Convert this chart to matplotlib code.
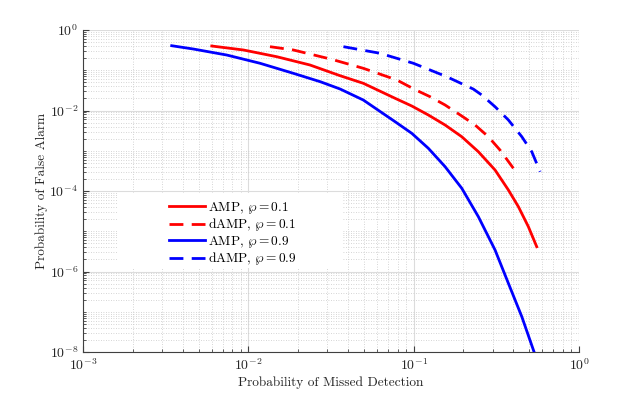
import matplotlib
matplotlib.use("Agg")
import matplotlib.pyplot as plt
from matplotlib.ticker import LogLocator, NullFormatter
from matplotlib.patches import Rectangle

plt.rcParams['mathtext.fontset'] = 'cm'
plt.rcParams['font.family'] = 'serif'
plt.rcParams['font.serif'] = ['cmr10', 'DejaVu Serif']
plt.rcParams['axes.formatter.use_mathtext'] = True

# AMP, wp = 0.9 (blue solid)
amp09_x = [0.00344, 0.00465, 0.00740, 0.01177, 0.0187, 0.0272, 0.0359, 0.0496, 0.0772, 0.0974,
           0.1227, 0.1549, 0.1954, 0.2462, 0.3107, 0.374, 0.451, 0.535]
amp09_y = [0.407, 0.337, 0.239, 0.149, 0.0840, 0.0520, 0.0342, 0.0182, 5.27e-3, 2.71e-3,
           1.15e-3, 4.02e-4, 1.17e-4, 2.30e-5, 3.42e-6, 5.09e-7, 7.53e-8, 1.0e-8]
# AMP, wp = 0.1 (red solid)
amp01_x = [0.00601, 0.00933, 0.01485, 0.0236, 0.0359, 0.0496, 0.0772, 0.0974, 0.1227, 0.1549,
           0.1954, 0.2462, 0.3107, 0.374, 0.430, 0.494, 0.555]
amp01_y = [0.400, 0.319, 0.217, 0.135, 0.0732, 0.0474, 0.0201, 0.01294, 7.73e-3, 4.36e-3,
           2.23e-3, 9.46e-4, 3.32e-4, 1.06e-4, 4.07e-5, 1.30e-5, 4.13e-6]
# dAMP, wp = 0.1 (red dashed)
damp01_x = [0.01352, 0.0187, 0.0319, 0.0496, 0.0791, 0.1020, 0.1257, 0.1549, 0.1954, 0.2352,
            0.283, 0.333, 0.401]
damp01_y = [0.385, 0.319, 0.187, 0.1117, 0.0573, 0.0330, 0.0220, 0.01370, 7.30e-3, 4.36e-3,
            2.23e-3, 1.04e-3, 3.66e-4]
# dAMP, wp = 0.9 (blue dashed)
damp09_x = [0.0376, 0.0626, 0.0996, 0.1585, 0.2297, 0.258, 0.3107, 0.374, 0.451, 0.518, 0.582]
damp09_y = [0.385, 0.264, 0.149, 0.0691, 0.0340, 0.0243, 0.0124, 5.81e-3, 2.23e-3, 9.46e-4, 3.02e-4]

labels = [r'AMP, $\wp = 0.1$', r'dAMP, $\wp = 0.1$', r'AMP, $\wp = 0.9$', r'dAMP, $\wp = 0.9$']

W, H = 640, 397
L, R, T, B = 83, 579, 30, 352
fig = plt.figure(figsize=(W / 100, H / 100), dpi=100)
ax = fig.add_axes([L / W, 1 - B / H, (R - L) / W, (B - T) / H])

lw = 2.0
dash = (0, (5, 3))
ax.plot(amp01_x, amp01_y, color='#ff0000', lw=lw, label=labels[0], zorder=3)
ax.plot(damp01_x, damp01_y, color='#ff0000', lw=lw, ls=dash, label=labels[1], zorder=3)
ax.plot(amp09_x, amp09_y, color='#0000ff', lw=lw, label=labels[2], zorder=3)
ax.plot(damp09_x, damp09_y, color='#0000ff', lw=lw, ls=dash, label=labels[3], zorder=3)

ax.set_xscale('log')
ax.set_yscale('log')
ax.set_xlim(1e-3, 1e0)
ax.set_ylim(1e-8, 1e0)
ax.set_xticks([1e-3, 1e-2, 1e-1, 1e0])
ax.set_yticks([1e-8, 1e-6, 1e-4, 1e-2, 1e0])
ax.yaxis.set_minor_locator(LogLocator(base=10, subs=[1, 2, 3, 4, 5, 6, 7, 8, 9], numticks=50))
ax.yaxis.set_minor_formatter(NullFormatter())
ax.xaxis.set_minor_formatter(NullFormatter())

ax.grid(True, which='major', color='#dcdcdc', lw=0.8, ls='-')
ax.grid(True, which='minor', color='#c8c8c8', lw=0.6, ls=(0, (1, 2)))
ax.set_axisbelow(True)

for s in ['top', 'right']:
    ax.spines[s].set_visible(False)
for s in ['left', 'bottom']:
    ax.spines[s].set_color('#404040')
    ax.spines[s].set_linewidth(0.8)
ax.tick_params(which='both', direction='in', colors='#404040', labelcolor='#262626', labelsize=10)
ax.tick_params(which='major', length=4)
ax.tick_params(which='minor', length=2)

ax.set_xlabel('Probability of Missed Detection', fontsize=9.6, color='#262626', labelpad=3)
ax.set_ylabel('Probability of False Alarm', fontsize=9.6, color='#262626', labelpad=1)

# white legend background (covers the grid)
def ax_x(px):
    return (px - L) / (R - L)

def ax_y(py):
    return (B - py) / (B - T)

ax.add_patch(Rectangle((ax_x(117), ax_y(268)), ax_x(342) - ax_x(117), ax_y(193) - ax_y(268),
                       transform=ax.transAxes, facecolor='white', edgecolor='none', zorder=1))

leg = ax.legend(loc='upper left', bbox_to_anchor=(ax_x(169), ax_y(200)), frameon=False, fontsize=9.6,
                handlelength=2.7, handletextpad=0.25, labelspacing=0.03, borderpad=0, borderaxespad=0)

fig.savefig('out.png', dpi=100)
